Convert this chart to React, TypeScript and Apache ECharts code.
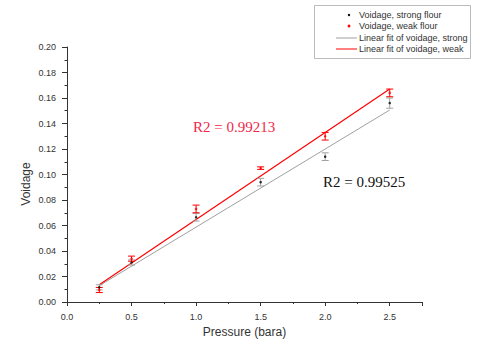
import React, { useEffect, useRef } from "react";
import * as echarts from "echarts";

const pressure = [0.25, 0.5, 1.0, 1.5, 2.0, 2.5];
const voidStrong = [0.0115, 0.031, 0.0665, 0.094, 0.114, 0.156];
const errStrong = [0.002, 0.002, 0.003, 0.003, 0.003, 0.004];
const voidWeak = [0.0094, 0.034, 0.073, 0.105, 0.13, 0.164];
const errWeak = [0.002, 0.002, 0.003, 0.001, 0.003, 0.003];
const fitX = [0.25, 2.5];
const fitStrong = [0.0128, 0.1506];
const fitWeak = [0.0136, 0.167];
const legendLabels = [
  "Voidage, strong flour",
  "Voidage, weak flour",
  "Linear fit of voidage, strong",
  "Linear fit of voidage, weak",
];
const r2Weak = "R2 = 0.99213";
const r2Strong = "R2 = 0.99525";

const RED = "#ff0000";
const GRAY = "#a0a0a0";
const FONT = "Liberation Sans";

function errBar(color: string) {
  return (params: any, api: any) => {
    const x = api.value(0);
    const p1 = api.coord([x, api.value(1)]);
    const p2 = api.coord([x, api.value(2)]);
    const w = 3.5;
    const st = { stroke: color, lineWidth: 1 };
    return {
      type: "group",
      children: [
        { type: "line", shape: { x1: p1[0], y1: p1[1], x2: p2[0], y2: p2[1] }, style: st },
        { type: "line", shape: { x1: p1[0] - w, y1: p1[1], x2: p1[0] + w, y2: p1[1] }, style: st },
        { type: "line", shape: { x1: p2[0] - w, y1: p2[1], x2: p2[0] + w, y2: p2[1] }, style: st },
      ],
    };
  };
}

export default function App() {
  const ref = useRef<HTMLDivElement>(null);
  useEffect(() => {
    const chart = echarts.init(ref.current!, null, { renderer: "svg" });
    const lx = 336;
    const ly = [15, 26, 38, 49];
    chart.setOption({
      animation: false,
      backgroundColor: "#ffffff",
      grid: { left: 67, right: 56, top: 47, bottom: 42 },
      xAxis: {
        type: "value",
        min: 0,
        max: 2.75,
        interval: 0.5,
        name: "Pressure (bara)",
        nameLocation: "middle",
        nameGap: 22,
        nameTextStyle: { fontFamily: FONT, fontSize: 12, color: "#333" },
        axisLine: { lineStyle: { color: "#333" } },
        axisTick: { length: 4, lineStyle: { color: "#333" } },
        minorTick: { show: true, splitNumber: 2, length: 2, lineStyle: { color: "#333" } },
        axisLabel: {
          fontFamily: FONT,
          fontSize: 9,
          color: "#333",
          margin: 10,
          showMaxLabel: false,
          formatter: (v: number) => v.toFixed(1),
        },
        splitLine: { show: false },
      },
      yAxis: {
        type: "value",
        min: 0,
        max: 0.2,
        interval: 0.02,
        axisLine: { show: true, lineStyle: { color: "#333" } },
        axisTick: { show: true, length: 5, lineStyle: { color: "#333" } },
        minorTick: { show: true, splitNumber: 2, length: 2.5, lineStyle: { color: "#333" } },
        axisLabel: {
          fontFamily: FONT,
          fontSize: 9,
          color: "#333",
          margin: 11,
          formatter: (v: number) => v.toFixed(2),
        },
        splitLine: { show: false },
      },
      series: [
        {
          name: legendLabels[2],
          type: "line",
          data: fitX.map((x, i) => [x, fitStrong[i]]),
          showSymbol: false,
          lineStyle: { color: GRAY, width: 1 },
          z: 2,
        },
        {
          name: legendLabels[3],
          type: "line",
          data: fitX.map((x, i) => [x, fitWeak[i]]),
          showSymbol: false,
          lineStyle: { color: RED, width: 1.2 },
          z: 2,
        },
        {
          type: "custom",
          renderItem: errBar(GRAY),
          data: pressure.map((x, i) => [x, voidStrong[i] - errStrong[i], voidStrong[i] + errStrong[i]]),
          encode: { x: 0, y: [1, 2] },
          z: 3,
        },
        {
          type: "custom",
          renderItem: errBar(RED),
          data: pressure.map((x, i) => [x, voidWeak[i] - errWeak[i], voidWeak[i] + errWeak[i]]),
          encode: { x: 0, y: [1, 2] },
          z: 3,
        },
        {
          name: legendLabels[0],
          type: "scatter",
          data: pressure.map((x, i) => [x, voidStrong[i]]),
          symbol: "circle",
          symbolSize: 2.5,
          itemStyle: { color: "#000" },
          z: 4,
        },
        {
          name: legendLabels[1],
          type: "scatter",
          data: pressure.map((x, i) => [x, voidWeak[i]]),
          symbol: "circle",
          symbolSize: 2.5,
          itemStyle: { color: RED },
          z: 4,
        },
      ],
      graphic: [
        {
          type: "text",
          x: 26,
          y: 184,
          rotation: Math.PI / 2,
          style: {
            text: "Voidage",
            fontFamily: FONT,
            fontSize: 12,
            fill: "#333",
            align: "center",
            verticalAlign: "middle",
          },
        },
        {
          type: "rect",
          shape: { x: 314.5, y: 5.5, width: 156, height: 53 },
          style: { fill: "#fff", stroke: "#bbb", lineWidth: 1 },
        },
        { type: "circle", shape: { cx: 349, cy: ly[0], r: 1.2 }, style: { fill: "#000" } },
        { type: "circle", shape: { cx: 349, cy: ly[1], r: 1.4 }, style: { fill: RED } },
        { type: "line", shape: { x1: lx, y1: ly[2], x2: 357, y2: ly[2] }, style: { stroke: GRAY, lineWidth: 1 } },
        { type: "line", shape: { x1: lx, y1: ly[3], x2: 357, y2: ly[3] }, style: { stroke: RED, lineWidth: 1 } },
        ...legendLabels.map((t, i) => ({
          type: "text",
          x: 359,
          y: ly[i],
          style: {
            text: t,
            fontFamily: FONT,
            fontSize: 9,
            fill: "#333",
            verticalAlign: "middle",
          },
        })),
        {
          type: "text",
          x: 193,
          y: 127,
          style: {
            text: r2Weak,
            fontFamily: "Liberation Serif",
            fontSize: 15,
            fill: "#f0284a",
            verticalAlign: "middle",
          },
        },
        {
          type: "text",
          x: 323,
          y: 182,
          style: {
            text: r2Strong,
            fontFamily: "Liberation Serif",
            fontSize: 15,
            fill: "#111",
            verticalAlign: "middle",
          },
        },
      ],
    });
    return () => chart.dispose();
  }, []);
  return (
    <div
      ref={ref}
      style={{ position: "fixed", left: 0, top: 0, width: 478, height: 344 }}
    />
  );
}
